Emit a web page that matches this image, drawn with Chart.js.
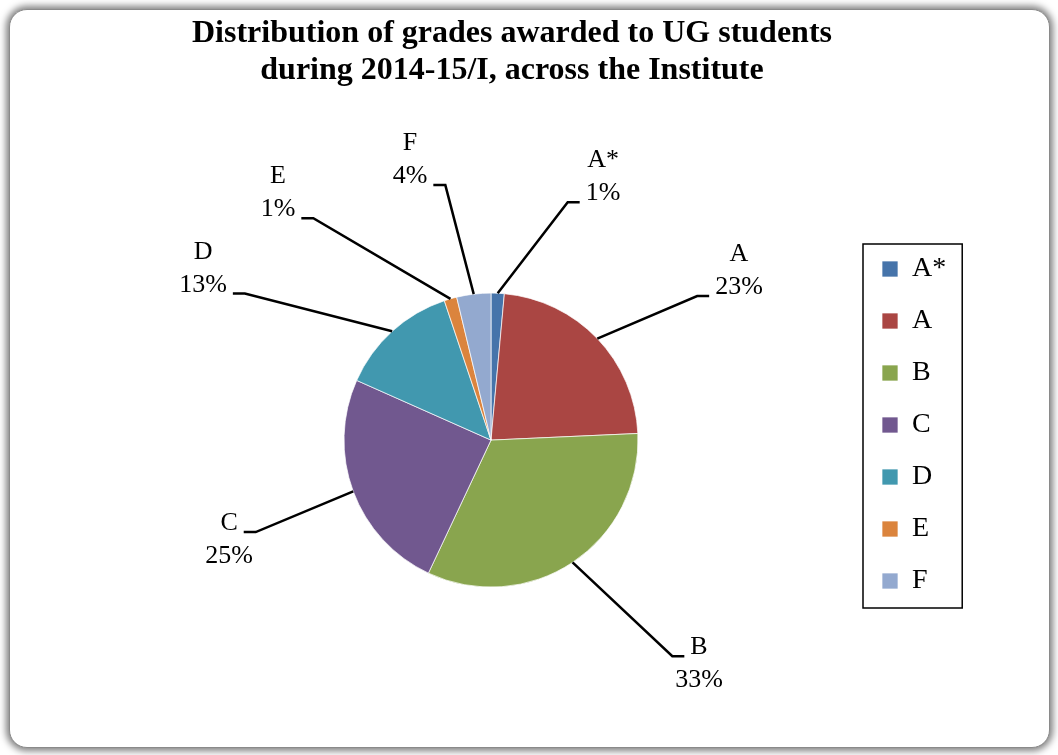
<!DOCTYPE html>
<html lang="en">
<head>
  <meta charset="UTF-8" />
  <title>Distribution of grades</title>
  <style>
    body {
      margin: 0;
      background-color: white;
      font-family: "Liberation Serif", "Times New Roman", serif;
    }
    #frame {
      position: absolute;
      left: 9px;
      top: 9px;
      width: 1039px;
      height: 737px;
      background: white;
      border: 1px solid #8a8a8a;
      border-radius: 18px;
      box-shadow: 0 0 7px 3px rgba(0, 0, 0, 0.5);
    }
    #box {
      position: absolute;
      left: 0;
      top: 0;
      width: 1024px;
      height: 755px;
    }
  </style>
  <script src="https://cdn.jsdelivr.net/npm/chart.js"></script>
</head>
<body>
  <div id="frame"></div>
  <div id="box"><canvas id="grafico"></canvas></div>

  <script>
    // grades and their share (%) of all grades awarded
    const grades = ["A*", "A", "B", "C", "D", "E", "F"];
    const shares = [1.45, 22.83, 32.72, 24.66, 13.2, 1.39, 3.75];

    const sliceColors = ["#4674AA", "#AA4643", "#89A54E", "#71588F", "#4198AF", "#DB843D", "#93A9CF"];

    // where each callout sits, in pie radii from the centre
    const calloutSpots = [
      [0.762, -1.789],
      [1.687, -1.15],
      [1.415, 1.524],
      [-1.782, 0.68],
      [-1.959, -1.167],
      [-1.449, -1.68],
      [-0.551, -1.905],
    ];

    Chart.defaults.font.family = '"Liberation Serif", "Times New Roman", serif';
    Chart.defaults.color = "#000";

    // labels with leader lines, drawn outside the slices
    const callouts = {
      id: "callouts",
      afterDatasetsDraw(chart, args, opts) {
        const meta = chart.getDatasetMeta(0);
        const data = chart.data.datasets[0].data;
        const total = data.reduce((a, b) => a + b, 0);
        const ctx = chart.ctx;
        ctx.save();
        ctx.font = '26px "Liberation Serif"';
        ctx.textAlign = "center";
        ctx.textBaseline = "middle";
        ctx.fillStyle = "#000";
        ctx.strokeStyle = "#000";
        ctx.lineWidth = 2.5;
        meta.data.forEach((arc, i) => {
          const p = arc.getProps(["x", "y", "startAngle", "endAngle", "outerRadius"], true);
          const mid = (p.startAngle + p.endAngle) / 2;
          const px = p.x + Math.cos(mid) * p.outerRadius;
          const py = p.y + Math.sin(mid) * p.outerRadius;
          const [dx, dy] = opts.spots[i];
          const cx = p.x + dx * p.outerRadius;
          const cy = p.y + dy * p.outerRadius;
          const lines = [chart.data.labels[i], Math.round((data[i] / total) * 100) + "%"];
          const above = dy < 0;
          const w = ctx.measureText(above ? lines[1] : lines[0]).width;
          const ay = above ? cy + 25 : cy - 8;
          const dir = dx > 0 ? -1 : 1;
          const ex = cx + dir * (w / 2 + 6);
          const kx = ex + dir * 12;
          ctx.beginPath();
          ctx.moveTo(px, py);
          ctx.lineTo(kx, ay);
          ctx.lineTo(ex, ay);
          ctx.stroke();
          ctx.fillText(lines[0], cx, cy - 16.5);
          ctx.fillText(lines[1], cx, cy + 16.5);
        });
        ctx.restore();
      },
    };

    // the legend only reserves a narrow strip in the layout,
    // then gets moved to its place and boxed
    const legendBox = {
      id: "legendBox",
      afterLayout(chart, args, opts) {
        const lg = chart.legend;
        lg.left = opts.left;
        lg.right = opts.right;
        lg.width = opts.right - opts.left;
        lg.top = opts.top;
        lg.bottom = opts.bottom;
        lg.height = opts.bottom - opts.top;
      },
      afterDraw(chart) {
        const hb = chart.legend.legendHitBoxes;
        if (!hb || !hb.length) return;
        const left = Math.min(...hb.map((b) => b.left)) - 19;
        const right = Math.max(...hb.map((b) => b.left + b.width)) + 16;
        const top = hb[0].top - 11;
        const last = hb[hb.length - 1];
        const bottom = last.top + last.height + 13;
        const ctx = chart.ctx;
        ctx.save();
        ctx.strokeStyle = "#000";
        ctx.lineWidth = 1.5;
        ctx.strokeRect(left, top, right - left, bottom - top);
        ctx.restore();
      },
    };

    new Chart(document.getElementById("grafico"), {
      type: "pie",
      data: {
        labels: grades,
        datasets: [
          {
            data: shares,
            backgroundColor: sliceColors,
            borderColor: "rgba(255, 255, 255, 0.7)",
            borderWidth: 1,
            radius: 147,
          },
        ],
      },
      options: {
        responsive: true,
        maintainAspectRatio: false,
        animation: false,
        layout: {
          padding: { left: 20, right: 20, top: 0, bottom: 15 },
        },
        plugins: {
          title: {
            display: true,
            text: ["Distribution of grades awarded to UG students", "during 2014-15/I, across the Institute"],
            font: { size: 32, weight: "bold", lineHeight: 1.16 },
            color: "#000",
            padding: { top: 15, bottom: 51 },
          },
          legend: {
            position: "right",
            maxWidth: 42,
            labels: {
              boxWidth: 16,
              boxHeight: 16,
              padding: 24,
              font: { size: 28 },
              color: "#000",
            },
          },
          tooltip: { enabled: false },
          callouts: { spots: calloutSpots },
          legendBox: { left: 858, right: 962, top: 125, bottom: 725 },
        },
      },
      plugins: [callouts, legendBox],
    });
  </script>
</body>
</html>
